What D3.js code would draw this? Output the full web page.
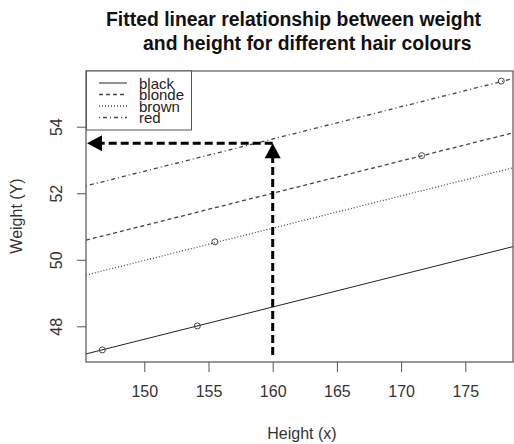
<!DOCTYPE html>
<html><head><meta charset="utf-8">
<script src="https://cdn.jsdelivr.net/npm/d3@7"></script>
<style>body{margin:0;background:#fff}svg{display:block}</style>
</head><body>
<svg id="c" width="514" height="444"></svg>
<script>
// ---- data ----
const hairColours = ["black", "blonde", "brown", "red"];
const intercepts = [33.06, 36.48, 35.43, 38.11];
const slope = 0.097;
const pointHeights = [146.73, 154.13, 155.5, 171.6, 177.8];
const pointWeights = [47.29, 48.01, 50.54, 53.13, 55.37];
const xTicks = [150, 155, 160, 165, 170, 175];
const yTicks = [48, 50, 52, 54];
const targetHeight = 160, targetWeight = 53.5, arrowStartWeight = 47.14;

// ---- layout ----
const L = 86, R = 513, T = 71, B = 362;
const x = d3.scaleLinear().domain([150, 175]).range([144.3, 465.3]);
const y = d3.scaleLinear().domain([48, 54]).range([326.3, 126.7]);
const xMin = x.invert(L), xMax = x.invert(R);

const svg = d3.select("#c");
const font = "'Liberation Sans', Arial, sans-serif";
const dashes = {black: null, blonde: "4,3", brown: "1,2", red: "1,3,4,3"};

svg.append("defs").append("clipPath").attr("id", "clip")
  .append("rect").attr("x", L).attr("y", T).attr("width", R - L).attr("height", B - T);

// title
svg.append("text").attr("x", 106).attr("y", 25.5).attr("font-family", font)
  .attr("font-weight", "bold").attr("font-size", 19.4).attr("fill", "#111")
  .text("Fitted linear relationship between weight");
svg.append("text").attr("x", 143).attr("y", 50).attr("font-family", font)
  .attr("font-weight", "bold").attr("font-size", 19.4).attr("fill", "#111")
  .text("and height for different hair colours");

// fitted lines
const g = svg.append("g").attr("clip-path", "url(#clip)");
hairColours.forEach((c, i) => {
  const f = h => intercepts[i] + slope * h;
  g.append("line")
    .attr("x1", x(xMin)).attr("y1", y(f(xMin)))
    .attr("x2", x(xMax)).attr("y2", y(f(xMax)))
    .attr("stroke", c === "black" ? "#222" : "#444")
    .attr("stroke-width", c === "black" ? 1 : 1.3)
    .attr("stroke-dasharray", dashes[c]);
});

// points
g.selectAll("circle.pt").data(pointHeights).enter().append("circle")
  .attr("class", "pt")
  .attr("cx", (d) => x(d)).attr("cy", (d, i) => y(pointWeights[i]))
  .attr("r", 3).attr("fill", "none").attr("stroke", "#444").attr("stroke-width", 1);

// arrows
const arrowStroke = "#000";
g.append("line")
  .attr("x1", x(targetHeight)).attr("y1", y(arrowStartWeight))
  .attr("x2", x(targetHeight)).attr("y2", y(targetWeight) + 14)
  .attr("stroke", arrowStroke).attr("stroke-width", 3).attr("stroke-dasharray", "8,4");
g.append("line")
  .attr("x1", x(targetHeight)).attr("y1", y(targetWeight))
  .attr("x2", x(xMin) + 14).attr("y2", y(targetWeight))
  .attr("stroke", arrowStroke).attr("stroke-width", 3).attr("stroke-dasharray", "8,4");
const tx = x(targetHeight), ty = y(targetWeight);
g.append("path").attr("d", `M${tx},${ty} L${tx - 8},${ty + 15} L${tx + 8},${ty + 15} Z`).attr("fill", "#000");
const lx = x(xMin) + 1;
g.append("path").attr("d", `M${lx},${ty} L${lx + 15},${ty - 8} L${lx + 15},${ty + 8} Z`).attr("fill", "#000");

// axes
const axisColor = "#555";
const xa = svg.append("g").attr("transform", `translate(0,${B})`)
  .call(d3.axisBottom(x).tickValues(xTicks).tickSize(10).tickPadding(14).tickSizeOuter(0));
xa.select(".domain").remove();
xa.selectAll("line").attr("stroke", axisColor);
xa.selectAll("text").attr("font-family", font).attr("font-size", 16).attr("fill", "#333");

const ya = svg.append("g").attr("transform", `translate(${L},0)`)
  .call(d3.axisLeft(y).tickValues(yTicks).tickSize(9).tickSizeOuter(0).tickFormat(d3.format("d")));
ya.select(".domain").remove();
ya.selectAll("line").attr("stroke", axisColor);
ya.selectAll("text")
  .attr("x", null).attr("dy", null)
  .attr("text-anchor", "middle")
  .attr("transform", "translate(-24,0) rotate(-90)")
  .attr("font-family", font).attr("font-size", 16).attr("fill", "#333");

// box
svg.append("rect").attr("x", L).attr("y", T).attr("width", R - L).attr("height", B - T)
  .attr("fill", "none").attr("stroke", axisColor).attr("stroke-width", 1.2);

// axis titles
svg.append("text").attr("x", 302).attr("y", 439).attr("text-anchor", "middle")
  .attr("font-family", font).attr("font-size", 16).attr("fill", "#333").text("Height (x)");
svg.append("text").attr("transform", "translate(22,216) rotate(-90)").attr("text-anchor", "middle")
  .attr("font-family", font).attr("font-size", 16).attr("fill", "#333").text("Weight (Y)");

// legend
const lg = svg.append("g");
lg.append("rect").attr("x", 86.5).attr("y", T).attr("width", 105).attr("height", 59)
  .attr("fill", "#fff").attr("stroke", "#555").attr("stroke-width", 1);
hairColours.forEach((c, i) => {
  const yy = 83 + i * 11.5;
  lg.append("line").attr("x1", 99).attr("x2", 127).attr("y1", yy).attr("y2", yy)
    .attr("stroke", c === "black" ? "#222" : "#444").attr("stroke-width", c === "black" ? 1 : 1.3)
    .attr("stroke-dasharray", dashes[c]);
  lg.append("text").attr("x", 139).attr("y", yy + 5.5).attr("font-family", font)
    .attr("font-size", 15).attr("fill", "#222").text(c);
});
</script>
</body></html>
